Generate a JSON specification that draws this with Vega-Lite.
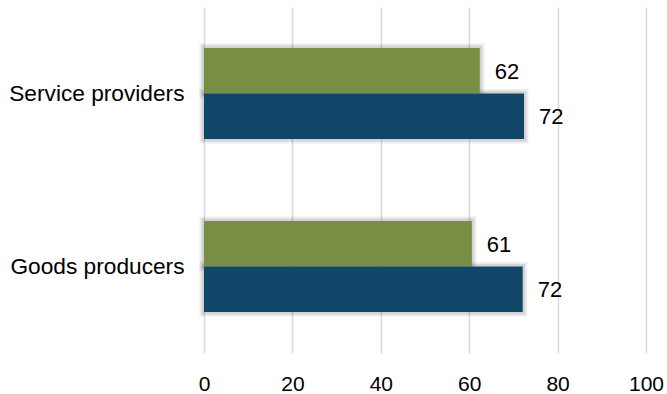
{
  "$schema": "https://vega.github.io/schema/vega-lite/v6.json",
  "width": 442,
  "height": 346,
  "autosize": {"type": "none"},
  "padding": {"left": 204, "top": 7, "right": 21, "bottom": 41},
  "background": "white",
  "config": {"view": {"stroke": null}, "font": "Liberation Sans"},
  "data": {
    "values": [
      {"category": "Service providers", "series": "A", "value": 62.4},
      {"category": "Service providers", "series": "B", "value": 72.4},
      {"category": "Goods producers", "series": "A", "value": 60.6},
      {"category": "Goods producers", "series": "B", "value": 72.1}
    ]
  },
  "encoding": {
    "y": {
      "field": "category",
      "type": "nominal",
      "sort": ["Service providers", "Goods producers"],
      "scale": {"paddingInner": 0.474, "paddingOuter": 0.237},
      "axis": {
        "title": null,
        "domain": false,
        "ticks": false,
        "labelFontSize": 22.7,
        "labelColor": "#000000",
        "labelPadding": 20,
        "labelFont": "Liberation Sans"
      }
    },
    "yOffset": {
      "field": "series",
      "type": "nominal",
      "sort": ["A", "B"],
      "scale": {"paddingInner": 0, "paddingOuter": 0}
    },
    "x": {
      "field": "value",
      "type": "quantitative",
      "scale": {"domain": [0, 100], "nice": false},
      "axis": {
        "title": null,
        "values": [0, 20, 40, 60, 80, 100],
        "domain": false,
        "ticks": false,
        "grid": true,
        "gridColor": "#d9d9d9",
        "gridWidth": 1.5,
        "labelFontSize": 21,
        "labelColor": "#000000",
        "labelPadding": 20,
        "labelFlush": false,
        "labelOverlap": false,
        "labelFont": "Liberation Sans"
      }
    }
  },
  "layer": [
    {
      "mark": {"type": "bar", "fillOpacity": 0, "stroke": "#000000", "strokeOpacity": 0.07, "strokeWidth": 9},
      "encoding": {}
    },
    {
      "mark": {"type": "bar", "fillOpacity": 0, "stroke": "#000000", "strokeOpacity": 0.1, "strokeWidth": 5},
      "encoding": {}
    },
    {
      "mark": {"type": "bar"},
      "encoding": {
        "color": {
          "field": "series",
          "type": "nominal",
          "scale": {"domain": ["A", "B"], "range": ["#788e42", "#104667"]},
          "legend": null
        }
      }
    },
    {
      "mark": {"type": "text", "align": "left", "baseline": "middle", "dx": 15, "dy": 1, "fontSize": 22, "font": "Liberation Sans", "color": "#000000"},
      "encoding": {
        "text": {"field": "value", "type": "quantitative", "format": ".0f"}
      }
    }
  ]
}
